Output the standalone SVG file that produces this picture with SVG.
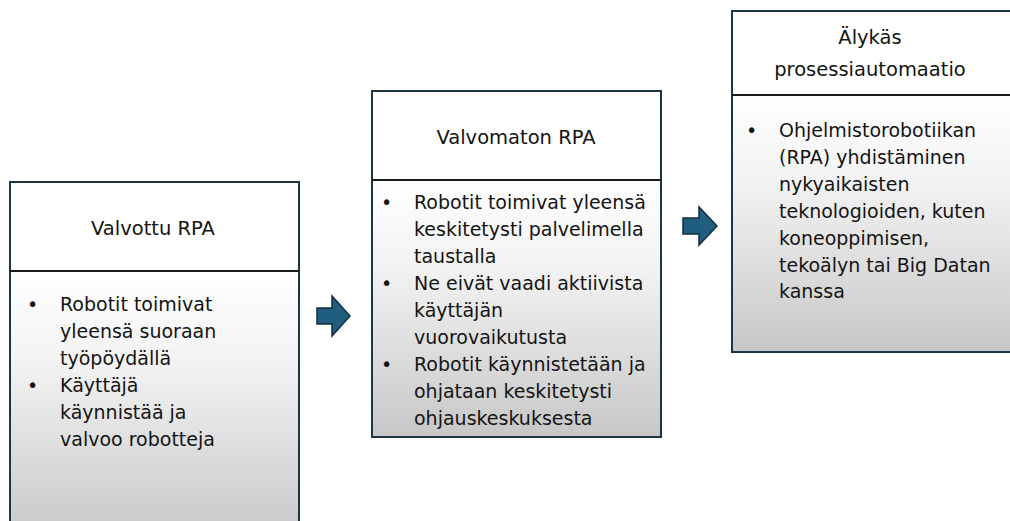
<svg xmlns="http://www.w3.org/2000/svg" width="1010" height="521" viewBox="0 0 1010 521">
  <defs>
    <linearGradient id="bodyGrad" x1="0" y1="0" x2="0" y2="1">
      <stop offset="0" stop-color="#ffffff"/>
      <stop offset="0.35" stop-color="#f2f2f2"/>
      <stop offset="1" stop-color="#c7c7c7"/>
    </linearGradient>
  </defs>
  <style>
    .hdr { fill: #ffffff; stroke: none; }
    .body { fill: url(#bodyGrad); stroke: none; }
    .frame { fill: none; stroke: #1c3646; stroke-width: 2; }
    .div { stroke: #1a1a1a; stroke-width: 2; }
    .title { font-family: "DejaVu Sans", "Liberation Sans", sans-serif; font-size: 19.5px; fill: #141414; text-anchor: middle; }
    .txt { font-family: "DejaVu Sans", "Liberation Sans", sans-serif; font-size: 19px; fill: #141414; }
    .arrow { fill: #1f5e7e; stroke: #132f3e; stroke-width: 1.5; stroke-linejoin: miter; }
  </style>
  <rect width="1010" height="521" fill="#ffffff"/>

  <g id="node-valvottu">
    <rect class="hdr" x="10" y="182" width="289" height="89"/>
    <rect class="body" x="10" y="271" width="289" height="270"/>
    <path class="frame" d="M10,530 V182 H299 V530"/>
    <line class="div" x1="10" y1="271" x2="299" y2="271"/>
    <text class="title" x="153" y="235">Valvottu RPA</text>
    <text class="txt" x="27" y="311">•</text>
    <text class="txt" x="60" y="311">Robotit toimivat</text>
    <text class="txt" x="60" y="338">yleensä suoraan</text>
    <text class="txt" x="60" y="365">työpöydällä</text>
    <text class="txt" x="27" y="392">•</text>
    <text class="txt" x="60" y="392">Käyttäjä</text>
    <text class="txt" x="60" y="419">käynnistää ja</text>
    <text class="txt" x="60" y="446">valvoo robotteja</text>
  </g>

  <g id="node-valvomaton">
    <rect class="hdr" x="372" y="91" width="289" height="89"/>
    <rect class="body" x="372" y="180" width="289" height="257"/>
    <rect class="frame" x="372" y="91" width="289" height="346"/>
    <line class="div" x1="372" y1="180" x2="661" y2="180"/>
    <text class="title" x="516" y="144">Valvomaton RPA</text>
    <text class="txt" x="381" y="209">•</text>
    <text class="txt" x="414" y="209">Robotit toimivat yleensä</text>
    <text class="txt" x="414" y="236">keskitetysti palvelimella</text>
    <text class="txt" x="414" y="263">taustalla</text>
    <text class="txt" x="381" y="290">•</text>
    <text class="txt" x="414" y="290">Ne eivät vaadi aktiivista</text>
    <text class="txt" x="414" y="317">käyttäjän</text>
    <text class="txt" x="414" y="344">vuorovaikutusta</text>
    <text class="txt" x="381" y="371">•</text>
    <text class="txt" x="414" y="371">Robotit käynnistetään ja</text>
    <text class="txt" x="414" y="398">ohjataan keskitetysti</text>
    <text class="txt" x="414" y="425">ohjauskeskuksesta</text>
  </g>

  <g id="node-alykas">
    <rect class="hdr" x="732" y="11" width="290" height="84"/>
    <rect class="body" x="732" y="95" width="290" height="257"/>
    <rect class="frame" x="732" y="11" width="290" height="341"/>
    <line class="div" x1="732" y1="95" x2="1012" y2="95"/>
    <text class="title" x="870" y="44">Älykäs</text>
    <text class="title" x="870" y="76">prosessiautomaatio</text>
    <text class="txt" x="746" y="137">•</text>
    <text class="txt" x="779" y="137">Ohjelmistorobotiikan</text>
    <text class="txt" x="779" y="164">(RPA) yhdistäminen</text>
    <text class="txt" x="779" y="191">nykyaikaisten</text>
    <text class="txt" x="779" y="218">teknologioiden, kuten</text>
    <text class="txt" x="779" y="245">koneoppimisen,</text>
    <text class="txt" x="779" y="272">tekoälyn tai Big Datan</text>
    <text class="txt" x="779" y="298">kanssa</text>
  </g>

  <g id="connectors">
    <polygon class="arrow" points="317,308 332,308 332,296 350,316 332,336 332,324 317,324"/>
    <polygon class="arrow" points="683,218 699,218 699,207 717,226 699,245 699,234 683,234"/>
  </g>
</svg>
